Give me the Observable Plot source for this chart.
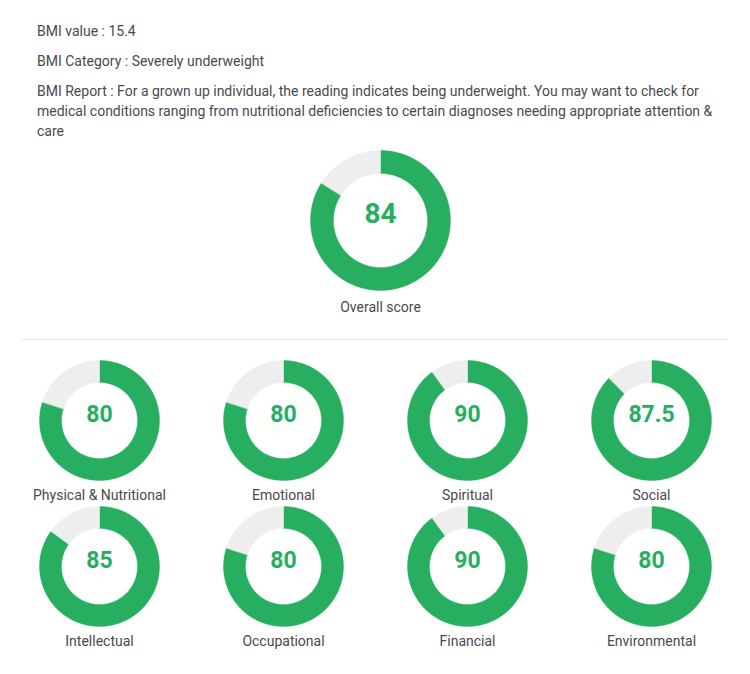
<!DOCTYPE html>
<html>
<head>
<meta charset="utf-8">
<script src="https://cdn.jsdelivr.net/npm/d3@7"></script>
<script src="https://cdn.jsdelivr.net/npm/@observablehq/plot@0.6"></script>
<style>
  body { margin: 0; background: #fff; font-family: Roboto, "Open Sans", sans-serif; }
  #info { box-sizing: border-box; height: 150px; width: 727px; padding: 21px 0 0 37px; color: #4a4a4a; font-size: 14px; line-height: 20px; }
  #info p { margin: 0 0 10px 0; }
</style>
</head>
<body>
<div id="info"></div>
<div id="chart"></div>
<script>
// ---- data ----
const infoLabels = ["BMI value", "BMI Category", "BMI Report"];
const infoValues = [
  "15.4",
  "Severely underweight",
  "For a grown up individual, the reading indicates being underweight.  You may want to check for medical conditions ranging from nutritional deficiencies to certain diagnoses needing appropriate attention & care"
];
const overallLabels = ["Overall score"];
const overallScores = [84];
const categories = ["Physical & Nutritional", "Emotional", "Spiritual", "Social",
                    "Intellectual", "Occupational", "Financial", "Environmental"];
const scores = [80, 80, 90, 87.5, 85, 80, 90, 80];
const maxScore = 100;

// ---- header text ----
const info = document.getElementById("info");
infoLabels.forEach((l, i) => {
  const p = document.createElement("p");
  p.textContent = `${l} : ${infoValues[i]}`;
  info.appendChild(p);
});

// ---- layout ----
const W = 750, H = 524;
const GREEN = "#27ae60", GREY = "#eeeeee";
const donuts = [];
donuts.push({label: overallLabels[0], value: overallScores[0], cx: 380, cy: 70, r0: 47, r1: 70, big: true});
categories.forEach((c, i) => {
  const col = i % 4, row = Math.floor(i / 4);
  donuts.push({label: c, value: scores[i], cx: 99 + 184 * col, cy: 270 + 146 * row, r0: 38, r1: 60, big: false});
});

// ring segments as closed polygons
function ring(d, f0, f1, color, id) {
  const pts = [];
  const n = Math.max(2, Math.ceil((f1 - f0) * 720));
  for (let k = 0; k <= n; k++) {
    const t = 2 * Math.PI * (f0 + (f1 - f0) * k / n);
    pts.push({id, color, x: d.cx + d.r1 * Math.sin(t), y: d.cy - d.r1 * Math.cos(t)});
  }
  for (let k = n; k >= 0; k--) {
    const t = 2 * Math.PI * (f0 + (f1 - f0) * k / n);
    pts.push({id, color, x: d.cx + d.r0 * Math.sin(t), y: d.cy - d.r0 * Math.cos(t)});
  }
  return pts;
}
const segs = [];
donuts.forEach((d, i) => {
  const f = d.value / maxScore;
  segs.push(...ring(d, 0, f, GREEN, `g${i}`));
  segs.push(...ring(d, f, 1, GREY, `e${i}`));
});

const fmt = v => String(v);

const chart = Plot.plot({
  width: W, height: H, margin: 0,
  x: {type: "identity", axis: null},
  y: {type: "identity", axis: null},
  color: {type: "identity"},
  style: {fontFamily: "Roboto, sans-serif", background: "#fff"},
  marks: [
    Plot.ruleY([189], {x1: 22, x2: 728, stroke: "#e8e8e8", strokeWidth: 1}),
    Plot.line(segs, {x: "x", y: "y", z: "id", fill: "color", stroke: "color", strokeWidth: 0.4, curve: "linear-closed"}),
    Plot.text(donuts, {x: "cx", y: d => d.cy - 6, text: d => fmt(d.value), fill: GREEN,
      fontWeight: "bold", fontSize: d => d.big ? 28 : 23}),
    Plot.text(donuts, {x: "cx", y: d => d.cy + (d.big ? 87 : 75), text: "label", fill: "#4a4a4a", fontSize: 14})
  ]
});
document.getElementById("chart").appendChild(chart);
</script>
</body>
</html>
